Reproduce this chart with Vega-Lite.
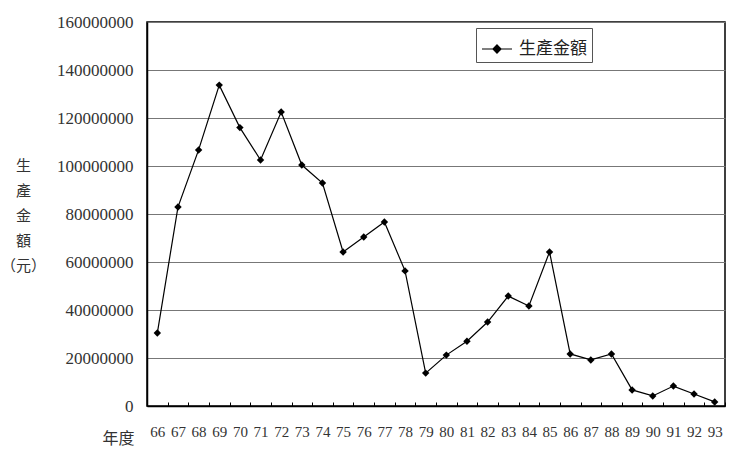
{
  "$schema": "https://vega.github.io/schema/vega-lite/v6.json",
  "autosize": "none",
  "width": 578,
  "height": 384,
  "padding": {"left": 147, "top": 22, "right": 15, "bottom": 48},
  "background": "white",
  "data": {
    "values": [
      {"year": "66", "value": 30400000, "series": "生產金額"},
      {"year": "67", "value": 82900000, "series": "生產金額"},
      {"year": "68", "value": 106700000, "series": "生產金額"},
      {"year": "69", "value": 133700000, "series": "生產金額"},
      {"year": "70", "value": 116000000, "series": "生產金額"},
      {"year": "71", "value": 102500000, "series": "生產金額"},
      {"year": "72", "value": 122500000, "series": "生產金額"},
      {"year": "73", "value": 100400000, "series": "生產金額"},
      {"year": "74", "value": 92900000, "series": "生產金額"},
      {"year": "75", "value": 64200000, "series": "生產金額"},
      {"year": "76", "value": 70400000, "series": "生產金額"},
      {"year": "77", "value": 76700000, "series": "生產金額"},
      {"year": "78", "value": 56300000, "series": "生產金額"},
      {"year": "79", "value": 13700000, "series": "生產金額"},
      {"year": "80", "value": 21200000, "series": "生產金額"},
      {"year": "81", "value": 27000000, "series": "生產金額"},
      {"year": "82", "value": 35000000, "series": "生產金額"},
      {"year": "83", "value": 45800000, "series": "生產金額"},
      {"year": "84", "value": 41700000, "series": "生產金額"},
      {"year": "85", "value": 64200000, "series": "生產金額"},
      {"year": "86", "value": 21700000, "series": "生產金額"},
      {"year": "87", "value": 19200000, "series": "生產金額"},
      {"year": "88", "value": 21700000, "series": "生產金額"},
      {"year": "89", "value": 6700000, "series": "生產金額"},
      {"year": "90", "value": 4200000, "series": "生產金額"},
      {"year": "91", "value": 8300000, "series": "生產金額"},
      {"year": "92", "value": 5000000, "series": "生產金額"},
      {"year": "93", "value": 1700000, "series": "生產金額"}
    ]
  },
  "mark": {
    "type": "line",
    "color": "black",
    "strokeWidth": 1.2,
    "point": {"shape": "diamond", "filled": true, "size": 55, "color": "black"}
  },
  "encoding": {
    "x": {
      "field": "year",
      "type": "ordinal",
      "scale": {"type": "band", "paddingInner": 0, "paddingOuter": 0},
      "axis": {
        "title": "年度",
        "titleFont": "Noto Sans CJK TC",
        "titleFontSize": 16,
        "titleFontWeight": "normal",
        "titleColor": "#333",
        "titleAlign": "center",
        "titleBaseline": "middle",
        "titleX": -29,
        "titleY": 32,
        "labelAngle": 0,
        "labelFont": "Times New Roman, Liberation Serif, serif",
        "labelFontSize": 15,
        "labelColor": "#333",
        "labelPadding": 22,
        "tickBand": "extent",
        "tickSize": -4,
        "tickColor": "black",
        "domainColor": "black",
        "domainWidth": 1.5,
        "grid": false
      }
    },
    "y": {
      "field": "value",
      "type": "quantitative",
      "scale": {"domain": [0, 160000000]},
      "axis": {
        "values": [0, 20000000, 40000000, 60000000, 80000000, 100000000, 120000000, 140000000, 160000000],
        "format": "d",
        "title": ["生", "產", "金", "額", "（元）"],
        "titleFont": "Noto Sans CJK TC",
        "titleFontSize": 15,
        "titleFontWeight": "normal",
        "titleColor": "#333",
        "titleAngle": 0,
        "titleAlign": "center",
        "titleBaseline": "top",
        "titleLineHeight": 25,
        "titleX": -124,
        "titleY": 136,
        "labelFont": "Times New Roman, Liberation Serif, serif",
        "labelFontSize": 17,
        "labelColor": "#333",
        "labelPadding": 14,
        "tickSize": 0,
        "domainColor": "black",
        "domainWidth": 1.5,
        "grid": true,
        "gridColor": "#777",
        "gridWidth": 1
      }
    },
    "color": {
      "field": "series",
      "type": "nominal",
      "scale": {"range": ["black"]},
      "legend": {
        "title": null,
        "orient": "none",
        "legendX": 329,
        "legendY": 6,
        "padding": 5,
        "strokeColor": "#555",
        "fillColor": "white",
        "symbolType": "M-1,0H1M0,-0.27L0.27,0L0,0.27L-0.27,0Z",
        "symbolSize": 900,
        "symbolStrokeWidth": 1.2,
        "symbolFillColor": "black",
        "symbolStrokeColor": "black",
        "labelFont": "Noto Sans CJK TC",
        "labelFontSize": 17,
        "labelColor": "#222",
        "labelOffset": 6
      }
    }
  },
  "config": {
    "view": {"stroke": "black", "strokeWidth": 1.5}
  }
}
